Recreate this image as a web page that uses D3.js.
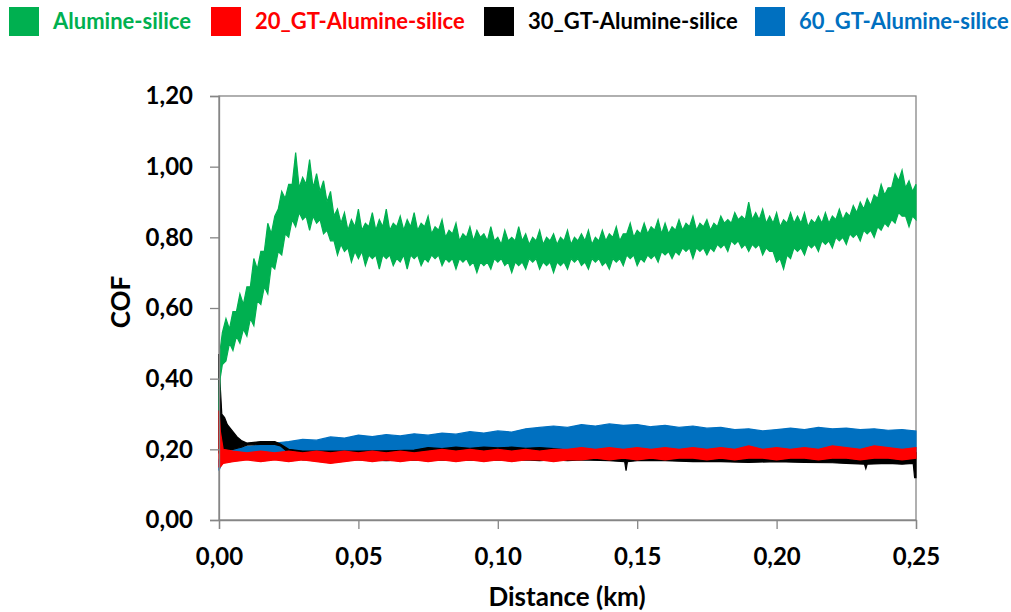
<!DOCTYPE html>
<html><head><meta charset="utf-8">
<script src="https://cdn.jsdelivr.net/npm/d3@7"></script>
<style>body{margin:0;background:#fff;}svg{display:block;font-family:Lato,"Open Sans",sans-serif;font-weight:bold;}</style>
</head><body>
<svg id="c" width="1011" height="612"></svg>
<script>
// ---- data ----
const seriesNames = ["Alumine-silice","20_GT-Alumine-silice","30_GT-Alumine-silice","60_GT-Alumine-silice"];
const xTicks = [0,0.05,0.10,0.15,0.20,0.25];
const yTicks = [0,0.2,0.4,0.6,0.8,1.0,1.2];

// Alumine-silice: noise band (lower / upper envelope), main samples
const greenX = [0,0.0004,0.0012,0.0025,0.005,0.0075,0.01,0.0125,0.015,0.0175,0.02,0.0225,0.025,0.0275,0.03,0.0325,0.035,0.0375,0.04,0.0425,0.045,0.0475,0.05,0.0525,0.055,0.0575,0.06,0.0625,0.065,0.0675,0.07,0.0725,0.075,0.0775,0.08,0.0825,0.085,0.0875,0.09,0.0925,0.095,0.0975,0.1,0.1025,0.105,0.1075,0.11,0.1125,0.115,0.1175,0.12,0.1225,0.125,0.1275,0.13,0.1325,0.135,0.1375,0.14,0.1425,0.145,0.1475,0.15,0.1525,0.155,0.1575,0.16,0.1625,0.165,0.1675,0.17,0.1725,0.175,0.1775,0.18,0.1825,0.185,0.1875,0.19,0.1925,0.195,0.1975,0.2,0.2025,0.205,0.2075,0.21,0.2125,0.215,0.2175,0.22,0.2225,0.225,0.2275,0.23,0.2325,0.235,0.2375,0.24,0.2425,0.245,0.2475,0.25];
const greenHi = [0.33,0.48,0.53,0.57,0.59,0.64,0.66,0.74,0.76,0.84,0.86,0.93,0.95,1.04,0.97,1.02,0.98,0.96,0.93,0.88,0.87,0.85,0.88,0.84,0.87,0.85,0.88,0.84,0.86,0.85,0.87,0.84,0.86,0.83,0.85,0.82,0.84,0.81,0.83,0.82,0.81,0.83,0.80,0.82,0.80,0.83,0.81,0.80,0.82,0.80,0.81,0.80,0.82,0.80,0.81,0.82,0.80,0.82,0.81,0.83,0.81,0.84,0.82,0.84,0.83,0.85,0.84,0.83,0.85,0.84,0.86,0.84,0.85,0.84,0.86,0.85,0.87,0.86,0.90,0.87,0.88,0.86,0.87,0.85,0.87,0.86,0.87,0.85,0.86,0.87,0.86,0.88,0.87,0.89,0.90,0.91,0.92,0.95,0.94,0.98,0.99,0.96,0.95];
const greenLo = [0.31,0.40,0.44,0.45,0.48,0.50,0.52,0.55,0.61,0.64,0.71,0.75,0.80,0.83,0.85,0.82,0.84,0.81,0.79,0.75,0.76,0.73,0.74,0.72,0.74,0.71,0.74,0.72,0.73,0.71,0.74,0.72,0.73,0.74,0.72,0.73,0.71,0.73,0.72,0.70,0.72,0.71,0.73,0.72,0.70,0.72,0.71,0.73,0.71,0.72,0.70,0.72,0.71,0.73,0.72,0.71,0.73,0.72,0.71,0.73,0.72,0.74,0.72,0.73,0.74,0.73,0.75,0.74,0.75,0.76,0.74,0.76,0.75,0.76,0.77,0.76,0.78,0.77,0.76,0.77,0.75,0.76,0.73,0.71,0.74,0.76,0.75,0.77,0.76,0.78,0.77,0.79,0.78,0.80,0.79,0.81,0.80,0.82,0.83,0.84,0.86,0.83,0.85];
// Alumine-silice: in-between samples (the fast oscillation of the signal)
const greenMidX = [0.00375,0.00625,0.00875,0.01125,0.01375,0.01625,0.01875,0.02125,0.02375,0.02625,0.02875,0.03125,0.03375,0.03625,0.03875,0.04125,0.04375,0.04625,0.04875,0.05125,0.05375,0.05625,0.05875,0.06125,0.06375,0.06625,0.06875,0.07125,0.07375,0.07625,0.07875,0.08125,0.08375,0.08625,0.08875,0.09125,0.09375,0.09625,0.09875,0.10125,0.10375,0.10625,0.10875,0.11125,0.11375,0.11625,0.11875,0.12125,0.12375,0.12625,0.12875,0.13125,0.13375,0.13625,0.13875,0.14125,0.14375,0.14625,0.14875,0.15125,0.15375,0.15625,0.15875,0.16125,0.16375,0.16625,0.16875,0.17125,0.17375,0.17625,0.17875,0.18125,0.18375,0.18625,0.18875,0.19125,0.19375,0.19625,0.19875,0.20125,0.20375,0.20625,0.20875,0.21125,0.21375,0.21625,0.21875,0.22125,0.22375,0.22625,0.22875,0.23125,0.23375,0.23625,0.23875,0.24125,0.24375,0.24625,0.24875];
const greenMidHi = [0.54,0.59,0.61,0.66,0.71,0.76,0.81,0.88,0.91,0.95,0.94,0.95,0.94,0.93,0.90,0.86,0.84,0.82,0.83,0.82,0.83,0.82,0.83,0.82,0.83,0.82,0.83,0.82,0.83,0.81,0.82,0.80,0.81,0.79,0.80,0.79,0.80,0.79,0.79,0.78,0.79,0.79,0.79,0.78,0.79,0.78,0.79,0.78,0.79,0.78,0.79,0.79,0.78,0.79,0.79,0.80,0.79,0.81,0.80,0.81,0.81,0.82,0.81,0.81,0.82,0.82,0.83,0.82,0.83,0.82,0.83,0.84,0.84,0.85,0.85,0.85,0.85,0.84,0.84,0.83,0.84,0.84,0.84,0.83,0.84,0.84,0.84,0.85,0.85,0.86,0.87,0.88,0.89,0.91,0.92,0.94,0.96,0.94,0.93];
const greenMidLo = [0.50,0.52,0.54,0.57,0.62,0.66,0.72,0.76,0.81,0.85,0.87,0.86,0.86,0.85,0.82,0.79,0.78,0.77,0.76,0.76,0.75,0.75,0.75,0.75,0.74,0.75,0.75,0.75,0.74,0.75,0.75,0.74,0.74,0.74,0.74,0.73,0.73,0.73,0.74,0.74,0.73,0.73,0.73,0.74,0.74,0.73,0.73,0.73,0.73,0.74,0.74,0.73,0.74,0.74,0.73,0.74,0.74,0.75,0.75,0.74,0.75,0.75,0.76,0.76,0.76,0.77,0.77,0.77,0.77,0.77,0.78,0.78,0.79,0.79,0.78,0.78,0.78,0.77,0.76,0.74,0.75,0.77,0.77,0.78,0.78,0.79,0.79,0.80,0.80,0.81,0.81,0.82,0.82,0.83,0.84,0.85,0.87,0.86,0.86];

// 20_GT-Alumine-silice
const redX = [0,0.0005,0.0015,0.005,0.01,0.015,0.02,0.025,0.03,0.035,0.04,0.045,0.05,0.055,0.06,0.065,0.07,0.075,0.08,0.085,0.09,0.095,0.1,0.105,0.11,0.115,0.12,0.125,0.13,0.135,0.14,0.145,0.15,0.155,0.16,0.165,0.17,0.175,0.18,0.185,0.19,0.195,0.2,0.205,0.21,0.215,0.22,0.225,0.23,0.235,0.24,0.245,0.25];
const redHi = [0.31,0.25,0.20,0.195,0.19,0.195,0.19,0.195,0.19,0.195,0.19,0.195,0.19,0.195,0.19,0.195,0.19,0.195,0.20,0.195,0.20,0.195,0.20,0.195,0.20,0.195,0.20,0.20,0.205,0.20,0.205,0.20,0.205,0.20,0.205,0.20,0.205,0.20,0.205,0.20,0.21,0.20,0.205,0.20,0.205,0.20,0.21,0.205,0.20,0.21,0.205,0.20,0.205];
const redLo = [0.15,0.15,0.16,0.165,0.17,0.165,0.17,0.165,0.17,0.165,0.16,0.165,0.17,0.165,0.17,0.165,0.17,0.165,0.17,0.165,0.17,0.165,0.17,0.165,0.17,0.17,0.165,0.17,0.17,0.175,0.17,0.175,0.17,0.175,0.17,0.175,0.175,0.17,0.175,0.17,0.175,0.175,0.17,0.175,0.175,0.17,0.175,0.175,0.17,0.175,0.175,0.17,0.175];

// 30_GT-Alumine-silice
const blackX = [0,0.0003,0.001,0.002,0.003,0.004,0.005,0.0065,0.008,0.01,0.015,0.02,0.022,0.025,0.03,0.04,0.05,0.06,0.07,0.075,0.08,0.085,0.09,0.095,0.1,0.105,0.11,0.115,0.12,0.125,0.13,0.14,0.1455,0.146,0.1465,0.15,0.16,0.17,0.18,0.19,0.2,0.21,0.22,0.225,0.2315,0.232,0.2325,0.24,0.245,0.249,0.2495,0.25];
const blackHi = [0.47,0.40,0.30,0.29,0.27,0.26,0.25,0.235,0.225,0.218,0.222,0.222,0.215,0.20,0.195,0.195,0.195,0.196,0.198,0.205,0.202,0.206,0.203,0.206,0.204,0.206,0.203,0.205,0.202,0.198,0.196,0.196,0.195,0.195,0.195,0.196,0.195,0.196,0.195,0.195,0.195,0.196,0.195,0.196,0.195,0.195,0.195,0.196,0.195,0.196,0.19,0.19];
const blackLo = [0.19,0.19,0.19,0.19,0.195,0.20,0.20,0.203,0.206,0.212,0.214,0.214,0.21,0.19,0.17,0.17,0.17,0.168,0.17,0.168,0.17,0.168,0.17,0.168,0.17,0.168,0.17,0.168,0.17,0.168,0.17,0.168,0.165,0.14,0.165,0.168,0.168,0.165,0.165,0.163,0.165,0.163,0.162,0.16,0.158,0.145,0.158,0.16,0.158,0.16,0.12,0.12];

// 60_GT-Alumine-silice
const blueX = [0,0.001,0.0025,0.005,0.01,0.015,0.02,0.025,0.03,0.035,0.04,0.045,0.05,0.055,0.06,0.065,0.07,0.075,0.08,0.085,0.09,0.095,0.1,0.105,0.11,0.115,0.12,0.125,0.13,0.135,0.14,0.145,0.15,0.155,0.16,0.165,0.17,0.175,0.18,0.185,0.19,0.195,0.2,0.205,0.21,0.215,0.22,0.225,0.23,0.235,0.24,0.245,0.25];
const blueHi = [0.17,0.19,0.198,0.20,0.208,0.212,0.218,0.222,0.228,0.226,0.235,0.232,0.24,0.236,0.242,0.238,0.244,0.24,0.246,0.243,0.25,0.246,0.252,0.249,0.258,0.262,0.266,0.262,0.27,0.266,0.272,0.268,0.27,0.264,0.268,0.262,0.266,0.26,0.262,0.256,0.258,0.252,0.256,0.26,0.256,0.262,0.258,0.26,0.256,0.258,0.254,0.256,0.252];
const blueLo = [0.14,0.16,0.17,0.18,0.185,0.185,0.19,0.185,0.19,0.185,0.19,0.185,0.19,0.185,0.19,0.185,0.19,0.185,0.19,0.185,0.19,0.185,0.19,0.185,0.19,0.185,0.19,0.185,0.19,0.185,0.19,0.185,0.19,0.185,0.19,0.185,0.19,0.185,0.19,0.185,0.19,0.185,0.19,0.185,0.19,0.185,0.19,0.185,0.19,0.185,0.19,0.185,0.19];

const colors = ["#00B050","#FF0000","#000000","#0070C0"];

// ---- layout ----
const svg = d3.select("#c");
const x = d3.scaleLinear().domain([0,0.25]).range([219,916]);
const y = d3.scaleLinear().domain([0,1.2]).range([520,96]);
const axisColor = "#868686";
const fmt = d => d3.format(".2f")(d).replace(".", ",");

// frame
svg.append("rect").attr("x",219).attr("y",96).attr("width",697).attr("height",424)
  .attr("fill","none").attr("stroke",axisColor).attr("stroke-width",1.3);

// series (drawn blue, black, red, green)
const band = (xs, lo, hi) => xs.map((d,i)=>({x:d, lo:lo[i], hi:hi[i]}));
const greenRows = band(greenX, greenLo, greenHi)
  .concat(band(greenMidX, greenMidLo, greenMidHi))
  .sort((a,b)=>a.x-b.x);
const area = d3.area().x(d=>x(d.x)).y0(d=>y(d.lo)).y1(d=>y(d.hi));
const layers = [
  {data: band(blueX, blueLo, blueHi), c: colors[3]},
  {data: band(blackX, blackLo, blackHi), c: colors[2]},
  {data: band(redX, redLo, redHi), c: colors[1]},
  {data: greenRows, c: colors[0]}
];
layers.forEach(l => {
  svg.append("path").attr("d", area(l.data)).attr("fill", l.c)
    .attr("stroke", l.c).attr("stroke-width", 1.2).attr("stroke-linejoin","miter");
});

// axes
const gx = svg.append("g").attr("transform","translate(0,520)")
  .call(d3.axisBottom(x).tickValues(xTicks).tickFormat(fmt).tickSize(9).tickPadding(19));
const gy = svg.append("g").attr("transform","translate(219,0)")
  .call(d3.axisLeft(y).tickValues(yTicks).tickFormat(fmt).tickSize(9).tickPadding(17));
[gx,gy].forEach(g=>{
  g.select(".domain").attr("stroke",axisColor).attr("stroke-width",1.3);
  g.selectAll(".tick line").attr("stroke",axisColor).attr("stroke-width",1.3);
  g.selectAll(".tick text").attr("fill","#000").style("font-size","24px")
    .style("font-family","Lato, sans-serif").style("font-weight","bold");
});

// axis titles
svg.append("text").attr("x",567).attr("y",606).attr("text-anchor","middle")
  .style("font-size","26px").text("Distance (km)");
svg.append("text").attr("transform","translate(130,302) rotate(-90)").attr("text-anchor","middle")
  .style("font-size","26px").text("COF");

// legend
const legX = [9,211,484,755];
seriesNames.forEach((n,i)=>{
  svg.append("rect").attr("x",legX[i]).attr("y",7).attr("width",30).attr("height",29).attr("fill",colors[i]);
  svg.append("text").attr("x",legX[i]+44).attr("y",29).attr("fill",colors[i])
    .style("font-size","22px").text(n);
});
</script>
</body></html>
